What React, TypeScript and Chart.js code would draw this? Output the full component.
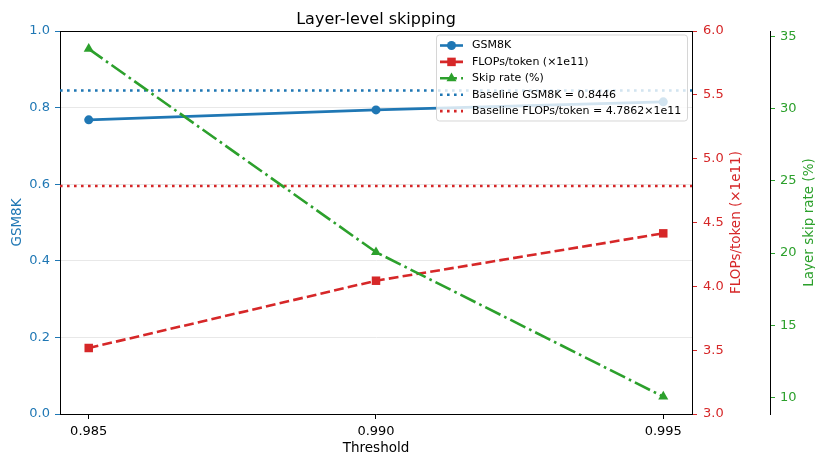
import React, { useEffect, useRef } from 'react';
import { Chart, registerables } from 'chart.js';

Chart.register(...registerables);

// ---- data ----
const thresholds = [0.985, 0.99, 0.995];
const gsm8k = [0.768, 0.794, 0.815];
const flopsPerToken = [3.517, 4.044, 4.415];
const skipRate = [34.13, 20.06, 10.06];
const baselineGsm8k = 0.8446;
const baselineFlops = 4.7862;

const xTicks = [0.985, 0.99, 0.995];
const gsmTicks = [0, 0.2, 0.4, 0.6, 0.8, 1.0];
const flopsTicks = [3.0, 3.5, 4.0, 4.5, 5.0, 5.5, 6.0];
const skipTicks = [10, 15, 20, 25, 30, 35];

const xRange = [0.9845, 0.9955];
const gsmRange = [0, 1];
const flopsRange = [3, 6];
const skipRange = [8.86, 35.37];

const titleText = 'Layer-level skipping';
const xTitle = 'Threshold';
const gsmTitle = 'GSM8K';
const flopsTitle = 'FLOPs/token (×1e11)';
const skipTitle = 'Layer skip rate (%)';
const legendLabels = [
  'GSM8K',
  'FLOPs/token (×1e11)',
  'Skip rate (%)',
  'Baseline GSM8K = 0.8446',
  'Baseline FLOPs/token = 4.7862×1e11',
];

const BLUE = '#1f77b4';
const RED = '#d62728';
const GREEN = '#2ca02c';
const FONT = "'DejaVu Sans', sans-serif";

const LW = 2.6;
const DASH = [9.8, 4.2];
const DASHDOT = [16.9, 4.2, 2.6, 4.2];
const DOT = [2.6, 4.4];

function drawMarker(ctx: CanvasRenderingContext2D, kind: string, x: number, y: number, color: string) {
  ctx.save();
  ctx.fillStyle = color;
  ctx.setLineDash([]);
  ctx.beginPath();
  if (kind === 'circle') {
    ctx.arc(x, y, 4.5, 0, Math.PI * 2);
  } else if (kind === 'rect') {
    const s = 4.25;
    ctx.rect(x - s, y - s, 2 * s, 2 * s);
  } else if (kind === 'triangle') {
    const r = 5.8;
    let a = 0;
    ctx.moveTo(x + Math.sin(a) * r, y - Math.cos(a) * r);
    a += (2 * Math.PI) / 3;
    ctx.lineTo(x + Math.sin(a) * r, y - Math.cos(a) * r);
    a += (2 * Math.PI) / 3;
    ctx.lineTo(x + Math.sin(a) * r, y - Math.cos(a) * r);
    ctx.closePath();
  }
  ctx.fill();
  ctx.restore();
}

const decorPlugin = {
  id: 'decor',
  afterDraw(chart: any) {
    const { ctx, chartArea: a } = chart;
    ctx.save();
    // top spine
    ctx.strokeStyle = '#000';
    ctx.lineWidth = 1;
    ctx.setLineDash([]);
    ctx.beginPath();
    ctx.moveTo(a.left, a.top + 0.5);
    ctx.lineTo(a.right, a.top + 0.5);
    ctx.stroke();

    const cx = (a.left + a.right) / 2;
    const cy = (a.top + a.bottom) / 2;

    // chart title
    ctx.fillStyle = '#000';
    ctx.font = `16px ${FONT}`;
    ctx.textAlign = 'center';
    ctx.textBaseline = 'alphabetic';
    ctx.fillText(titleText, cx, 24);

    // x title
    ctx.font = `13.5px ${FONT}`;
    ctx.textBaseline = 'middle';
    ctx.fillText(xTitle, cx, 448);

    // y titles (rotated, read bottom to top)
    const vt = (text: string, x: number, color: string) => {
      ctx.save();
      ctx.translate(x, cy);
      ctx.rotate(-Math.PI / 2);
      ctx.fillStyle = color;
      ctx.font = `13.5px ${FONT}`;
      ctx.textAlign = 'center';
      ctx.textBaseline = 'middle';
      ctx.fillText(text, 0, 0);
      ctx.restore();
    };
    vt(gsmTitle, 17, BLUE);
    vt(flopsTitle, 736, RED);
    vt(skipTitle, 809, GREEN);

    // legend
    const lx = 436.5, ly = 35, lw = 251, lh = 86;
    ctx.save();
    ctx.beginPath();
    const r = 3;
    ctx.moveTo(lx + r, ly);
    ctx.lineTo(lx + lw - r, ly);
    ctx.arcTo(lx + lw, ly, lx + lw, ly + r, r);
    ctx.lineTo(lx + lw, ly + lh - r);
    ctx.arcTo(lx + lw, ly + lh, lx + lw - r, ly + lh, r);
    ctx.lineTo(lx + r, ly + lh);
    ctx.arcTo(lx, ly + lh, lx, ly + lh - r, r);
    ctx.lineTo(lx, ly + r);
    ctx.arcTo(lx, ly, lx + r, ly, r);
    ctx.closePath();
    ctx.fillStyle = 'rgba(255,255,255,0.8)';
    ctx.fill();
    ctx.strokeStyle = 'rgba(204,204,204,0.8)';
    ctx.lineWidth = 1;
    ctx.stroke();
    ctx.restore();

    const rows = [
      { color: BLUE, dash: [] as number[], marker: 'circle' },
      { color: RED, dash: DASH, marker: 'rect' },
      { color: GREEN, dash: DASHDOT, marker: 'triangle' },
      { color: BLUE, dash: DOT, marker: '' },
      { color: RED, dash: DOT, marker: '' },
    ];
    rows.forEach((row, i) => {
      const y = 45.5 + i * 16.4;
      ctx.save();
      ctx.strokeStyle = row.color;
      ctx.lineWidth = LW;
      ctx.setLineDash(row.dash);
      ctx.beginPath();
      ctx.moveTo(440, y);
      ctx.lineTo(463, y);
      ctx.stroke();
      ctx.restore();
      if (row.marker) drawMarker(ctx, row.marker, 451.5, y, row.color);
      ctx.fillStyle = '#000';
      ctx.font = `11px ${FONT}`;
      ctx.textAlign = 'left';
      ctx.textBaseline = 'middle';
      ctx.fillText(legendLabels[i], 472, y);
    });

    ctx.restore();
  },
};

export default function App() {
  const ref = useRef<HTMLCanvasElement | null>(null);

  useEffect(() => {
    if (!ref.current) return;
    const pts = (ys: number[]) => thresholds.map((x, i) => ({ x, y: ys[i] }));
    const chart = new Chart(ref.current, {
      type: 'line',
      data: {
        datasets: [
          {
            label: legendLabels[0],
            data: pts(gsm8k),
            yAxisID: 'y',
            borderColor: BLUE,
            backgroundColor: BLUE,
            borderWidth: LW,
            pointStyle: 'circle',
            pointRadius: 4.5,
            pointBorderWidth: 0,
            order: 5,
          },
          {
            label: legendLabels[3],
            data: [
              { x: xRange[0], y: baselineGsm8k },
              { x: xRange[1], y: baselineGsm8k },
            ],
            yAxisID: 'y',
            borderColor: BLUE,
            borderWidth: LW,
            borderDash: DOT,
            pointRadius: 0,
            order: 4,
          },
          {
            label: legendLabels[1],
            data: pts(flopsPerToken),
            yAxisID: 'y1',
            borderColor: RED,
            backgroundColor: RED,
            borderWidth: LW,
            borderDash: DASH,
            pointStyle: 'rect',
            pointRadius: 6,
            pointBorderWidth: 0,
            order: 3,
          },
          {
            label: legendLabels[4],
            data: [
              { x: xRange[0], y: baselineFlops },
              { x: xRange[1], y: baselineFlops },
            ],
            yAxisID: 'y1',
            borderColor: RED,
            borderWidth: LW,
            borderDash: DOT,
            pointRadius: 0,
            order: 2,
          },
          {
            label: legendLabels[2],
            data: pts(skipRate),
            yAxisID: 'y2',
            borderColor: GREEN,
            backgroundColor: GREEN,
            borderWidth: LW,
            borderDash: DASHDOT,
            pointStyle: 'triangle',
            pointRadius: 5.8,
            pointBorderWidth: 0,
            order: 1,
          },
        ],
      },
      options: {
        responsive: false,
        animation: false,
        events: [],
        layout: { padding: { top: 31, left: 0, right: 0, bottom: 0 } },
        plugins: {
          legend: { display: false },
          title: { display: false },
          tooltip: { enabled: false },
        },
        scales: {
          x: {
            type: 'linear',
            position: 'bottom',
            min: xRange[0],
            max: xRange[1],
            afterBuildTicks: (s: any) => {
              s.ticks = xTicks.map((v) => ({ value: v }));
            },
            afterFit: (s: any) => {
              s.height = 41;
            },
            ticks: {
              color: '#000',
              font: { family: FONT, size: 13 },
              padding: 5,
              maxRotation: 0,
              callback: (v: any) => Number(v).toFixed(3),
            },
            grid: { display: true, drawOnChartArea: false, tickLength: 5, tickColor: '#000', tickWidth: 1 },
            border: { display: true, color: '#000', width: 1 },
          },
          y: {
            type: 'linear',
            position: 'left',
            min: gsmRange[0],
            max: gsmRange[1],
            afterBuildTicks: (s: any) => {
              s.ticks = gsmTicks.map((v) => ({ value: v }));
            },
            afterFit: (s: any) => {
              s.width = 60;
            },
            ticks: {
              color: BLUE,
              font: { family: FONT, size: 13 },
              padding: 5,
              callback: (v: any) => Number(v).toFixed(1),
            },
            grid: { color: '#e8e8e8', lineWidth: 1, tickLength: 5, tickColor: BLUE, tickWidth: 1 },
            border: { display: true, color: '#000', width: 1 },
          },
          y1: {
            type: 'linear',
            position: 'right',
            weight: 1,
            min: flopsRange[0],
            max: flopsRange[1],
            afterBuildTicks: (s: any) => {
              s.ticks = flopsTicks.map((v) => ({ value: v }));
            },
            afterFit: (s: any) => {
              s.width = 78;
            },
            ticks: {
              color: RED,
              font: { family: FONT, size: 13 },
              padding: 6,
              callback: (v: any) => Number(v).toFixed(1),
            },
            grid: { drawOnChartArea: false, tickLength: 5, tickColor: RED, tickWidth: 1 },
            border: { display: true, color: '#000', width: 1 },
          },
          y2: {
            type: 'linear',
            position: 'right',
            weight: 2,
            min: skipRange[0],
            max: skipRange[1],
            afterBuildTicks: (s: any) => {
              s.ticks = skipTicks.map((v) => ({ value: v }));
            },
            afterFit: (s: any) => {
              s.width = 45;
            },
            ticks: {
              color: GREEN,
              font: { family: FONT, size: 13 },
              padding: 5,
              callback: (v: any) => String(v),
            },
            grid: { drawOnChartArea: false, tickLength: 5, tickColor: GREEN, tickWidth: 1 },
            border: { display: true, color: '#000', width: 1 },
          },
        },
      } as any,
      plugins: [decorPlugin],
    });
    return () => chart.destroy();
  }, []);

  return (
    <div style={{ position: 'fixed', left: 0, top: 0, width: 815, height: 455, background: '#fff' }}>
      <canvas ref={ref} width={815} height={455} style={{ display: 'block', width: 815, height: 455 }} />
    </div>
  );
}
